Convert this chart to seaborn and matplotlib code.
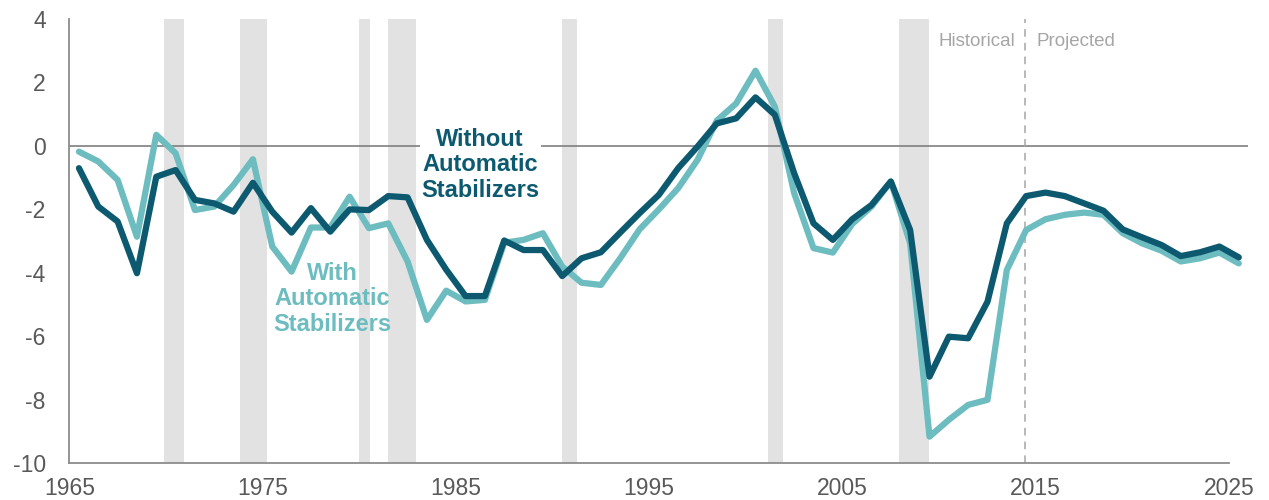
import matplotlib
matplotlib.use('Agg')
import matplotlib.pyplot as plt
import numpy as np
import pandas as pd
import seaborn as sns

sns.set_style('white')
plt.rcParams['font.family'] = ['Liberation Sans', 'DejaVu Sans']
plt.rcParams['axes.unicode_minus'] = False

years = list(range(1965, 2026))

without_stab = [
    -0.70, -1.91, -2.38, -4.01, -0.97, -0.76, -1.70, -1.81, -2.07, -1.16,
    -2.07, -2.73, -1.96, -2.70, -2.00, -2.02, -1.58, -1.62, -2.96, -3.90,
    -4.73, -4.73, -2.98, -3.28, -3.28, -4.10, -3.54, -3.35, -2.73, -2.12,
    -1.54, -0.70, -0.02, 0.71, 0.87, 1.53, 0.98, -0.86, -2.44, -2.96,
    -2.31, -1.86, -1.12, -2.65, -7.27, -6.01, -6.06, -4.91, -2.44, -1.58,
    -1.47, -1.58, -1.81, -2.04, -2.63, -2.88, -3.12, -3.47, -3.35, -3.17,
    -3.51,
]

with_stab = [
    -0.18, -0.49, -1.07, -2.86, 0.35, -0.23, -2.02, -1.91, -1.23, -0.42,
    -3.17, -3.96, -2.57, -2.57, -1.60, -2.59, -2.44, -3.64, -5.48, -4.56,
    -4.90, -4.85, -3.05, -2.96, -2.75, -3.80, -4.31, -4.38, -3.54, -2.63,
    -2.00, -1.33, -0.44, 0.80, 1.34, 2.37, 1.24, -1.49, -3.22, -3.36,
    -2.46, -1.91, -1.12, -3.07, -9.16, -8.63, -8.16, -8.00, -3.91, -2.65,
    -2.31, -2.17, -2.10, -2.17, -2.75, -3.07, -3.30, -3.64, -3.54, -3.36,
    -3.70,
]

# recession periods (start, end) in fractional years
recessions = [
    (1969.92, 1970.92), (1973.83, 1975.25), (1980.0, 1980.58),
    (1981.5, 1982.92), (1990.5, 1991.25), (2001.17, 2001.92),
    (2007.92, 2009.5),
]
projection_start = 2014.45

x_ticks = [1965, 1975, 1985, 1995, 2005, 2015, 2025]
y_ticks = [-10, -8, -6, -4, -2, 0, 2, 4]

df = pd.DataFrame({
    'year': np.array(years) + 0.5,
    'without': without_stab,
    'with': with_stab,
})

dark = '#0d5a70'
light = '#6cbcc0'
grey_txt = '#595959'

fig = plt.figure(figsize=(12.69, 5), dpi=100)
ax = fig.add_axes([0.0546, 0.0734, 0.9292, 0.8886])

for start, end in recessions:
    ax.axvspan(start, end, color='#e2e2e2', lw=0, zorder=0)

ax.axhline(0, color='#7f7f7f', lw=1.2, zorder=1)
ax.axvline(projection_start, color='#a6a6a6', lw=1.1, ls=(0, (5, 4)), zorder=1)

sns.lineplot(data=df, x='year', y='with', color=light, lw=4.5, ax=ax, zorder=3)
sns.lineplot(data=df, x='year', y='without', color=dark, lw=4.5, ax=ax, zorder=4)

ax.text(1986.25, -0.6, 'Without\nAutomatic\nStabilizers', color=dark, fontsize=17,
        fontweight='bold', ha='center', va='center', linespacing=1.15, zorder=5,
        bbox=dict(facecolor='white', edgecolor='none', pad=1))
ax.text(1978.6, -4.82, 'With\nAutomatic\nStabilizers', color=light, fontsize=17,
        fontweight='bold', ha='center', va='center', linespacing=1.15, zorder=5)

ax.text(projection_start - 0.5, 3.3, 'Historical', color='#a6a6a6', fontsize=13.5,
        ha='right', va='center')
ax.text(projection_start + 0.6, 3.3, 'Projected', color='#a6a6a6', fontsize=13.5,
        ha='left', va='center')

ax.set_xlim(1965, 2026)
ax.set_ylim(-10, 4)
ax.set_xticks(x_ticks)
ax.set_yticks(y_ticks)
ax.set_xlabel('')
ax.set_ylabel('')

for side in ['top', 'right']:
    ax.spines[side].set_visible(False)
for side in ['left', 'bottom']:
    ax.spines[side].set_color('#8c8c8c')
    ax.spines[side].set_linewidth(1.3)
ax.spines['bottom'].set_bounds(1965, 2025)

ax.tick_params(axis='both', direction='in', length=7, width=1.2, color='#8c8c8c',
               labelcolor=grey_txt, labelsize=16.5)
ax.tick_params(axis='x', pad=10)
ax.tick_params(axis='y', pad=17)

fig.savefig('out.png', dpi=100)
